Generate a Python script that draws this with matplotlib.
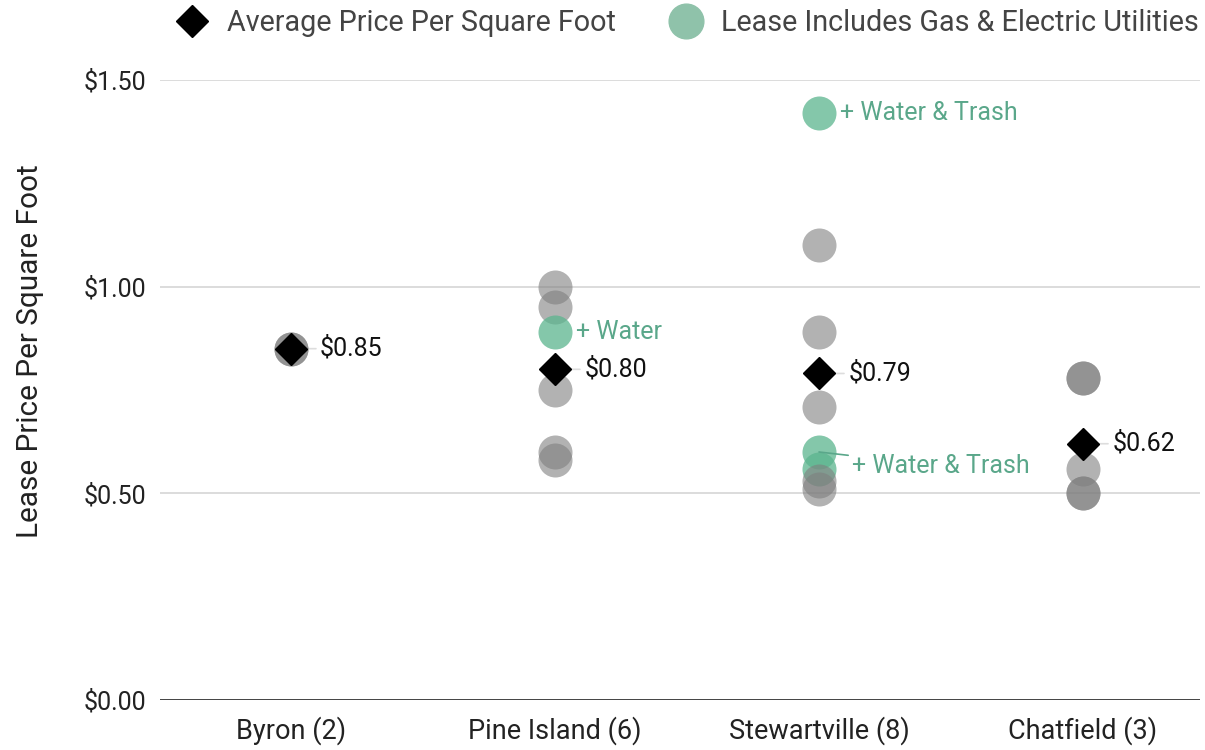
import matplotlib.pyplot as plt
from matplotlib.lines import Line2D

plt.rcParams['font.family'] = ['Roboto', 'DejaVu Sans']

categories = ['Byron (2)', 'Pine Island (6)', 'Stewartville (8)', 'Chatfield (3)']

byron = [0.85, 0.848]
pine_island = [1.00, 0.95, 0.89, 0.75, 0.60, 0.58]
stewartville = [1.42, 1.10, 0.89, 0.71, 0.60, 0.56, 0.53, 0.51]
chatfield = [0.78, 0.78, 0.56, 0.50, 0.50]

byron_utils = [False, False]
pine_island_utils = [False, False, True, False, False, False]
stewartville_utils = [True, False, False, False, True, True, False, False]
chatfield_utils = [False, False, False, False, False]

averages = [0.85, 0.80, 0.79, 0.62]

# notes on the green points: (town index, price, text)
notes = [(1, 0.89, '+ Water'),
         (2, 1.42, '+ Water & Trash'),
         (2, 0.60, '+ Water & Trash')]

prices = [byron, pine_island, stewartville, chatfield]
utils = [byron_utils, pine_island_utils, stewartville_utils, chatfield_utils]

GRAY = '#7f7f7f'
GREEN = '#5bb58e'
GREEN_TXT = '#5aa78a'

fig = plt.figure(figsize=(12.05, 7.5), dpi=100)
ax = fig.add_axes([160/1205, 50/750, 1040/1205, 620/750])

for i, (vals, flags) in enumerate(zip(prices, utils)):
    for v, f in zip(vals, flags):
        ax.scatter(i, v, s=600, color=GREEN if f else GRAY,
                   alpha=0.75 if f else 0.6, linewidths=0, zorder=3)

for i, avg in enumerate(averages):
    ax.annotate(f'${avg:.2f}', xy=(i, avg), xytext=(21, 0), textcoords='offset points',
                ha='left', va='center', fontsize=18, color='#111111', zorder=2,
                arrowprops=dict(arrowstyle='-', color='#dddddd', lw=1.2, shrinkA=1, shrinkB=0))
ax.plot(range(len(averages)), averages, linestyle='none', marker='D', markersize=16.3,
        color='black', zorder=5)

for i, v, txt in notes:
    if v < 0.7:
        off = (24, -10)
        arrow = dict(arrowstyle='-', color=GREEN_TXT, lw=1.2, shrinkA=1, shrinkB=0)
    else:
        off = (15, 0)
        arrow = None
    ax.annotate(txt, xy=(i, v), xytext=off, textcoords='offset points',
                ha='left', va='center', fontsize=18, color=GREEN_TXT, zorder=4,
                arrowprops=arrow)

ax.set_xlim(-0.496, 3.443)
ax.set_ylim(0, 1.5)
ax.set_yticks([0, 0.5, 1.0, 1.5])
ax.set_yticklabels(['$0.00', '$0.50', '$1.00', '$1.50'])
ax.set_xticks(range(len(categories)))
ax.set_xticklabels(categories)
ax.tick_params(axis='both', length=0, labelcolor='#222222')
ax.tick_params(axis='y', pad=10, labelsize=18)
ax.tick_params(axis='x', pad=12, labelsize=19.5)
for s in ax.spines.values():
    s.set_visible(False)
ax.set_axisbelow(True)
ax.grid(axis='y', color='#d9d9d9', lw=1.3)
ax.axhline(0, color='#444444', lw=1.4, zorder=1)
ax.set_ylabel('Lease Price Per Square Foot', fontsize=21.4, color='#222222')
ax.yaxis.set_label_coords(-0.112, 0.563)
ax.patch.set_alpha(0)

handles = [Line2D([], [], linestyle='none', marker='D', markersize=15.8, color='black'),
           Line2D([], [], linestyle='none', marker='o', markersize=25, color='#8fc2aa')]
fig.legend(handles, ['Average Price Per Square Foot', 'Lease Includes Gas & Electric Utilities'],
           loc='upper center', bbox_to_anchor=(0.571, 1.022), ncol=2, frameon=False,
           fontsize=20.7, labelcolor='#444444', handlelength=1.0, handletextpad=0.72,
           columnspacing=1.95)

fig.savefig('out.png', dpi=100)
